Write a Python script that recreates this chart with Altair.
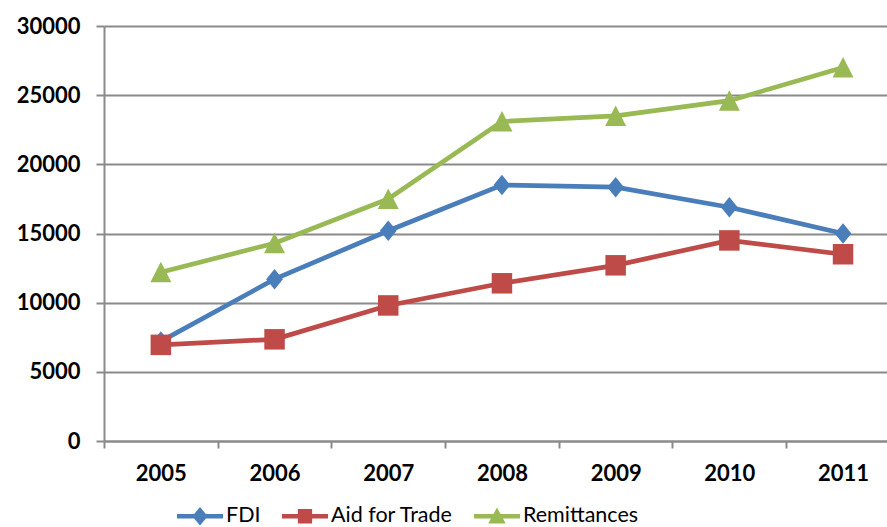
import altair as alt
import pandas as pd

years = [2005, 2006, 2007, 2008, 2009, 2010, 2011]
fdi = [7200, 11700, 15200, 18500, 18350, 16900, 15000]
aid = [6950, 7350, 9800, 11400, 12700, 14500, 13500]
rem = [12200, 14300, 17500, 23100, 23500, 24600, 27000]

series_names = ["FDI", "Aid for Trade", "Remittances"]
series_colors = ["#4A7EBB", "#BE4B48", "#98B954"]
y_ticks = [0, 5000, 10000, 15000, 20000, 25000, 30000]

rows = []
for name, vals in zip(series_names, [fdi, aid, rem]):
    for yr, v in zip(years, vals):
        rows.append({"year": yr, "value": v, "series": name})
df = pd.DataFrame(rows)

W, H = 783, 415
band = 113.7
x_scale = alt.Scale(domain=[2004.5, 2004.5 + W / band], nice=False, zero=False)
y_scale = alt.Scale(domain=[0, 30000], nice=False)
color_scale = alt.Scale(domain=series_names, range=series_colors)

grey = "#8A8A8A"
x_enc = alt.X("year:Q", scale=x_scale, axis=alt.Axis(
    values=years, format="d", title=None, grid=False,
    tickOffset=-band / 2, labelOffset=band / 2, tickSize=7, tickWidth=2,
    tickColor=grey, domainColor=grey, domainWidth=2,
    labelFont="Lato", labelFontWeight="bold", labelFontSize=22, labelColor="black",
    labelPadding=15, labelFlush=False, labelOverlap=False, labelBound=False))
y_enc = alt.Y("value:Q", scale=y_scale, axis=alt.Axis(
    values=y_ticks, format="d", title=None, grid=True, gridColor=grey, gridWidth=2,
    tickSize=8, tickWidth=2, tickColor=grey, domainColor=grey, domainWidth=2,
    labelFont="Lato", labelFontWeight="bold", labelFontSize=22, labelColor="black",
    labelPadding=16, labelFlush=False, labelOverlap=False, labelBound=False))

base = alt.Chart(df)

shapes = {
    "FDI": ("M0,-1L0.82,0L0,1L-0.82,0Z", 420),
    "Aid for Trade": ("square", 420),
    "Remittances": ("M0,-1L1,0.95H-1Z", 440),
}
layers = []
for i, (name, col) in enumerate(zip(series_names, series_colors)):
    shp, sz = shapes[name]
    sub = base.transform_filter(alt.datum.series == name)
    layers.append(sub.mark_line(strokeWidth=4.7, color=col).encode(
        x=x_enc if i == 0 else alt.X("year:Q", scale=x_scale),
        y=y_enc if i == 0 else alt.Y("value:Q", scale=y_scale)))
    layers.append(sub.mark_point(shape=shp, size=sz, filled=True, opacity=1, color=col, strokeWidth=0)
                  .encode(x=alt.X("year:Q", scale=x_scale), y=alt.Y("value:Q", scale=y_scale)))

legend_paths = [
    "M-1,-0.1H1V0.1H-1Z M0,-0.4L0.34,0L0,0.4L-0.34,0Z",
    "M-1,-0.1H1V0.1H-1Z M-0.31,-0.31H0.31V0.31H-0.31Z",
    "M-1,-0.1H1V0.1H-1Z M0,-0.38L0.38,0.32H-0.38Z",
]
leg = alt.Legend(
    title=None, orient="none", legendX=73, legendY=467, direction="horizontal",
    symbolSize=2116, labelFont="Lato", labelFontSize=21.5, labelColor="black",
    labelOffset=3, columnPadding=21, symbolStrokeWidth=0)
legend_layer = base.transform_filter("false").mark_point(filled=True, opacity=1).encode(
    color=alt.Color("series:N", scale=color_scale, legend=leg),
    shape=alt.Shape("series:N", scale=alt.Scale(domain=series_names, range=legend_paths), legend=leg),
)

chart = alt.layer(*layers, legend_layer).properties(
    width=W, height=H,
    autosize=alt.AutoSizeParams(type="none"),
    padding={"left": 104, "top": 26, "right": 0, "bottom": 86},
    background="white",
).configure_view(fill="#F2F2F2", stroke=None)

chart.save("out.html", embed_options={"renderer": "svg", "actions": False})
